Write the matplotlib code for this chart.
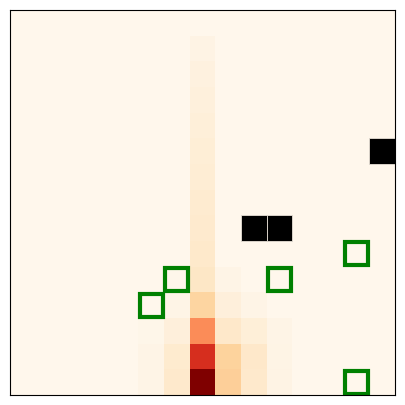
import numpy as np
import matplotlib
matplotlib.use('Agg')
from matplotlib import pyplot as plt
from matplotlib.patches import Rectangle

n = 15

# probability mass per cell (row, col) -> value, rest is 0
center_col = [0.0, 0.03, 0.045, 0.055, 0.065, 0.075, 0.085, 0.095, 0.105,
              0.115, 0.13, 0.24, 0.5, 0.75, 1.0]          # column 7, rows 0..14
side_rows = [10, 11, 12, 13, 14]
left2 = [0.0, 0.0, 0.01, 0.02, 0.02]                       # column 5
left1 = [0.005, 0.02, 0.06, 0.10, 0.11]                    # column 6
right1 = [0.02, 0.06, 0.12, 0.25, 0.27]                    # column 8
right2 = [0.0, 0.02, 0.07, 0.12, 0.11]                     # column 9
right3 = [0.0, 0.0, 0.02, 0.025, 0.03]                     # column 10

walls = [(5, 14), (8, 9), (8, 10)]                          # black cells (row, col)
targets = [(9, 13), (10, 6), (10, 10), (11, 5), (14, 13)]   # green outlines (row, col)

grid = np.zeros((n, n))
grid[:, 7] = center_col
for cols, vals in [(5, left2), (6, left1), (8, right1), (9, right2), (10, right3)]:
    for r, v in zip(side_rows, vals):
        grid[r, cols] = v

fig = plt.figure(figsize=(4.05, 4.05), dpi=100)
ax = fig.add_axes([10 / 405, 10 / 405, 385 / 405, 385 / 405])
ax.imshow(grid, cmap='OrRd', vmin=0, vmax=1, interpolation='nearest')

for r, c in walls:
    ax.add_patch(Rectangle((c - 0.5, r - 0.5), 1, 1, facecolor='black',
                           edgecolor='#e8e0d6', linewidth=0.6))
for r, c in targets:
    ax.add_patch(Rectangle((c - 0.45, r - 0.45), 0.9, 0.9, fill=False,
                           edgecolor='green', linewidth=3))

ax.set_xlim(-0.5, n - 0.5)
ax.set_ylim(n - 0.5, -0.5)
ax.set_xticks([])
ax.set_yticks([])

fig.savefig('out.png', dpi=100)
